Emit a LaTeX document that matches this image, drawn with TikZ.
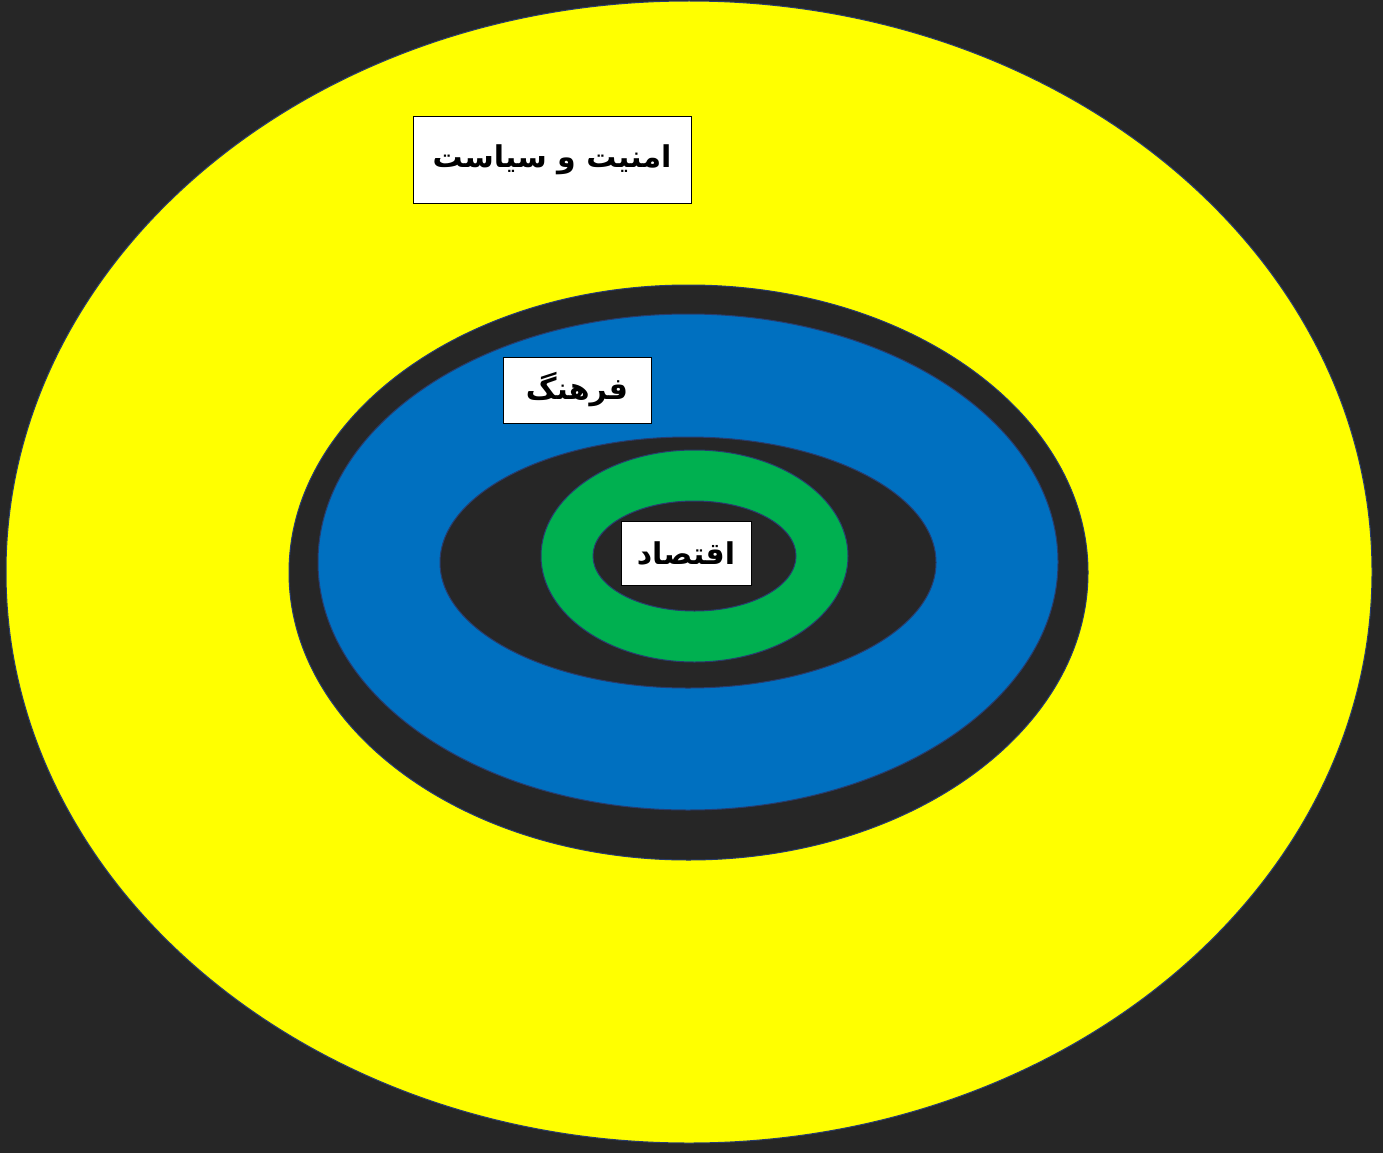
\documentclass[tikz,border=0pt]{standalone}
\usepackage{fontspec}
\usepackage{tikz}
\usetikzlibrary{shapes.geometric,positioning}
\TeXXeTstate=1
\newfontfamily\farsifont[Script=Arabic]{DejaVu Sans}
\definecolor{bgdark}{RGB}{38,38,38}
\definecolor{ringyellow}{RGB}{255,255,0}
\definecolor{ringblue}{RGB}{0,112,192}
\definecolor{ringgreen}{RGB}{0,176,80}
\definecolor{rimblue}{RGB}{40,60,110}

\begin{document}
\begin{tikzpicture}[
    x=1pt, y=-1pt,
    ring/.style  = {ellipse, draw=rimblue, line width=1pt, inner sep=0pt},
    lblbox/.style = {draw=black, fill=white, line width=1pt, inner sep=0pt,
                     align=center, font=\farsifont\bfseries\fontsize{30}{36}\selectfont}
  ]
  %–––– canvas ––––
  \fill[bgdark] (0,0) rectangle (1383,1153);
  \useasboundingbox (0,0) rectangle (1383,1153);

  %–––– rings, outside in ––––
  \node[ring, fill=ringyellow, minimum width=1366pt, minimum height=1142pt] (outer) at (689,572) {};
  \node[ring, fill=bgdark, minimum width=799pt, minimum height=575pt] (gapA) at (688.5,572.5) {};
  \node[ring, fill=ringblue, minimum width=740pt, minimum height=496pt] (culture) at (688,562) {};
  \node[ring, fill=bgdark, minimum width=496pt, minimum height=251pt] (gapB) at (688,562.5) {};
  \node[ring, fill=ringgreen, minimum width=307pt, minimum height=212pt] (econ) at (694.5,556) {};
  \node[ring, fill=bgdark, minimum width=203pt, minimum height=110pt] (core) at (694.5,556) {};

  %–––– labels ––––
  \node[lblbox, minimum width=278pt, minimum height=86pt] (lblsec) at (552,160) {\beginR امنیت و سیاست\endR};
  \node[lblbox, minimum width=148pt, minimum height=66pt] (lblcul) at (577,390) {\beginR فرهنگ\endR};
  \node[lblbox, minimum width=130pt, minimum height=64pt] (lbleco) at (686,553) {\beginR اقتصاد\endR};

\end{tikzpicture}
\end{document}
